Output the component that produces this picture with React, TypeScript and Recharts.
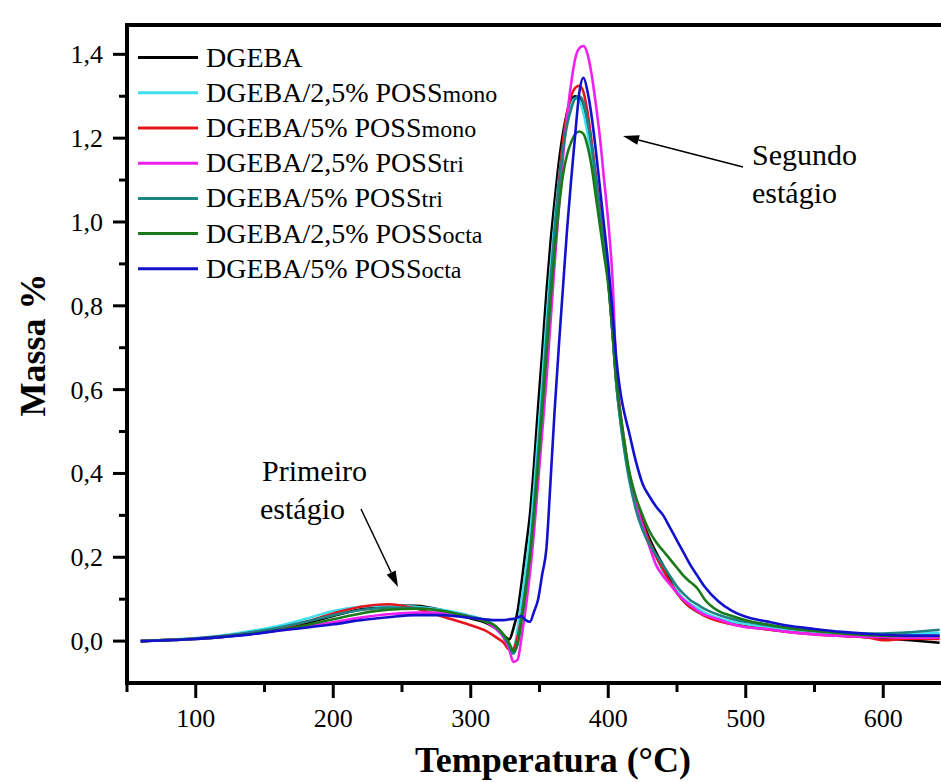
import { LineChart, Line, XAxis, YAxis, ReferenceLine, Legend } from 'recharts';

// temperature grid (°C), denser around the main degradation peak
const temps = [
  60, 80, 100, 120, 140, 160, 180, 200, 220, 240, 260, 280, 300,
  310, 318, 324, 328,
  331, 334, 337, 340, 343, 346, 349, 352, 355, 358, 361, 364, 367, 370, 373, 376, 379,
  382, 385, 388, 391, 394, 397, 400, 403, 406, 409, 412, 415,
  420, 425, 430, 435, 440, 445, 450, 455, 460, 465, 470,
  480, 490, 500,
  515, 530, 550, 570, 590, 600, 620, 641,
];

const dgeba = [
  0, 0.003, 0.006, 0.011, 0.018, 0.028, 0.042, 0.06, 0.076, 0.085, 0.084, 0.073, 0.054,
  0.045, 0.031, 0.014, 0.004,
  0.03, 0.07, 0.14, 0.22, 0.3, 0.42, 0.56, 0.69, 0.83, 0.95, 1.05, 1.14, 1.21, 1.26, 1.29, 1.3, 1.295,
  1.27, 1.23, 1.17, 1.1, 1.02, 0.95, 0.86, 0.74, 0.61, 0.53, 0.46, 0.4,
  0.335, 0.285, 0.245, 0.21, 0.18, 0.145, 0.115, 0.095, 0.08, 0.07, 0.062,
  0.05, 0.042, 0.036,
  0.029, 0.023, 0.017, 0.013, 0.009, 0.007, 0.002, -0.004,
];

const monoLow = [
  0, 0.003, 0.007, 0.014, 0.024, 0.036, 0.053, 0.072, 0.082, 0.085, 0.082, 0.074, 0.06,
  0.05, 0.035, 0.012, -0.008,
  -0.02, 0.03, 0.1, 0.17, 0.25, 0.36, 0.49, 0.62, 0.76, 0.89, 1.0, 1.1, 1.18, 1.24, 1.28, 1.295, 1.29,
  1.26, 1.21, 1.15, 1.08, 1.01, 0.94, 0.86, 0.74, 0.61, 0.52, 0.45, 0.39,
  0.32, 0.27, 0.235, 0.2, 0.165, 0.14, 0.12, 0.1, 0.088, 0.078, 0.068,
  0.055, 0.046, 0.04,
  0.033, 0.027, 0.021, 0.017, 0.015, 0.015, 0.017, 0.02,
];

const monoHigh = [
  0, 0.003, 0.006, 0.012, 0.02, 0.03, 0.046, 0.066, 0.082, 0.088, 0.078, 0.058, 0.038,
  0.026, 0.01, -0.004, -0.02,
  -0.018, 0.01, 0.06, 0.13, 0.2, 0.28, 0.4, 0.53, 0.68, 0.83, 0.97, 1.09, 1.19, 1.26, 1.3, 1.32, 1.325,
  1.31, 1.26, 1.19, 1.11, 1.03, 0.95, 0.87, 0.75, 0.62, 0.53, 0.46, 0.4,
  0.33, 0.28, 0.235, 0.2, 0.17, 0.14, 0.115, 0.095, 0.08, 0.07, 0.06,
  0.048, 0.04, 0.034,
  0.028, 0.022, 0.016, 0.012, 0.008, 0.002, 0.006, 0.005,
];

const triLow = [
  0, 0.002, 0.005, 0.01, 0.017, 0.025, 0.035, 0.045, 0.056, 0.064, 0.068, 0.068, 0.058,
  0.048, 0.03, 0.008, -0.02,
  -0.05, -0.045, 0.01, 0.08, 0.16, 0.26, 0.38, 0.5, 0.62, 0.76, 0.9, 1.03, 1.15, 1.25, 1.33, 1.39, 1.415,
  1.42, 1.4, 1.35, 1.28, 1.2, 1.1, 1.0, 0.87, 0.64, 0.54, 0.47, 0.4,
  0.33, 0.275, 0.225, 0.18, 0.155, 0.135, 0.115, 0.098, 0.085, 0.072, 0.063,
  0.052, 0.04, 0.033,
  0.029, 0.022, 0.016, 0.012, 0.01, 0.009, 0.008, 0.008,
];

const triHigh = [
  0, 0.003, 0.006, 0.012, 0.021, 0.032, 0.046, 0.062, 0.074, 0.08, 0.079, 0.072, 0.058,
  0.05, 0.035, 0.012, -0.012,
  -0.03, -0.005, 0.06, 0.13, 0.21, 0.32, 0.45, 0.58, 0.72, 0.86, 0.98, 1.08, 1.17, 1.23, 1.27, 1.295, 1.3,
  1.285, 1.24, 1.18, 1.1, 1.02, 0.94, 0.86, 0.74, 0.61, 0.52, 0.45, 0.39,
  0.315, 0.265, 0.23, 0.205, 0.18, 0.155, 0.13, 0.112, 0.097, 0.087, 0.077,
  0.063, 0.053, 0.046,
  0.038, 0.031, 0.025, 0.02, 0.018, 0.018, 0.021, 0.027,
];

const octaLow = [
  0, 0.002, 0.005, 0.01, 0.017, 0.026, 0.038, 0.052, 0.066, 0.075, 0.077, 0.072, 0.056,
  0.047, 0.036, 0.015, -0.005,
  -0.024, -0.008, 0.05, 0.12, 0.2, 0.3, 0.42, 0.55, 0.68, 0.81, 0.93, 1.03, 1.11, 1.16, 1.19, 1.21, 1.216,
  1.21, 1.18, 1.13, 1.06, 0.99, 0.92, 0.85, 0.74, 0.62, 0.54, 0.47, 0.41,
  0.345, 0.3, 0.262, 0.235, 0.215, 0.195, 0.175, 0.155, 0.14, 0.125, 0.1,
  0.072, 0.06, 0.05,
  0.04, 0.032, 0.024, 0.018, 0.014, 0.013, 0.012, 0.012,
];

const octaHigh = [
  0, 0.002, 0.005, 0.01, 0.016, 0.025, 0.032, 0.04, 0.05, 0.057, 0.062, 0.062, 0.055,
  0.052, 0.05, 0.05, 0.052,
  0.053, 0.056, 0.06, 0.05, 0.046, 0.07, 0.1, 0.16, 0.22, 0.38, 0.55, 0.7, 0.84, 0.98, 1.1, 1.21, 1.31,
  1.344, 1.31, 1.25, 1.17, 1.08, 0.99, 0.9, 0.79, 0.67, 0.59, 0.54, 0.5,
  0.43, 0.375, 0.345, 0.32, 0.3, 0.27, 0.24, 0.21, 0.18, 0.155, 0.13,
  0.095, 0.072, 0.058,
  0.047, 0.037, 0.029, 0.022, 0.017, 0.015, 0.013, 0.013,
];

const xTicks = [50, 100, 150, 200, 250, 300, 350, 400, 450, 500, 550, 600];
const yTicks = [0, 0.1, 0.2, 0.3, 0.4, 0.5, 0.6, 0.7, 0.8, 0.9, 1.0, 1.1, 1.2, 1.3, 1.4];

const series = [
  { key: 'dgeba', name: 'DGEBA', sub: '', color: '#000000', values: dgeba },
  { key: 'monoLow', name: 'DGEBA/2,5% POSS', sub: 'mono', color: '#3DE0F0', values: monoLow },
  { key: 'monoHigh', name: 'DGEBA/5% POSS', sub: 'mono', color: '#E8141C', values: monoHigh },
  { key: 'triLow', name: 'DGEBA/2,5% POSS', sub: 'tri', color: '#F020F0', values: triLow },
  { key: 'triHigh', name: 'DGEBA/5% POSS', sub: 'tri', color: '#1E8282', values: triHigh },
  { key: 'octaLow', name: 'DGEBA/2,5% POSS', sub: 'octa', color: '#1A7A1A', values: octaLow },
  { key: 'octaHigh', name: 'DGEBA/5% POSS', sub: 'octa', color: '#1212CC', values: octaHigh },
];

const data = temps.map((t, i) => {
  const row: any = { t };
  series.forEach((s) => {
    row[s.key] = s.values[i];
  });
  return row;
});

const FONT = 'Liberation Serif, Times New Roman, serif';

const XTick = (props: any) => {
  const { x, y, payload } = props;
  const major = payload.value % 100 === 0;
  return (
    <g>
      <line x1={x} x2={x} y1={y} y2={y + (major ? 15 : 9)} stroke="#000" strokeWidth={3} />
      {major && (
        <text x={x} y={y + 44} textAnchor="middle" fontFamily={FONT} fontSize={26} fill="#000">
          {payload.value}
        </text>
      )}
    </g>
  );
};

const YTick = (props: any) => {
  const { x, y, payload } = props;
  const major = Math.round(payload.value * 10) % 2 === 0;
  return (
    <g>
      <line x1={x - (major ? 14 : 8)} x2={x} y1={y} y2={y} stroke="#000" strokeWidth={3} />
      {major && (
        <text x={x - 24} y={y + 9} textAnchor="end" fontFamily={FONT} fontSize={26} fill="#000">
          {payload.value.toFixed(1).replace('.', ',')}
        </text>
      )}
    </g>
  );
};

const renderLegend = () => (
  <svg width={520} height={300} style={{ overflow: 'visible' }}>
    {series.map((s, i) => {
      const cy = 57.6 + i * 35.2;
      return (
        <g key={s.key}>
          <line x1={138} x2={198} y1={cy} y2={cy} stroke={s.color} strokeWidth={3} />
          <text x={206} y={cy + 9} fontFamily={FONT} fontSize={28} fill="#000">
            {s.name}
            {s.sub && <tspan fontSize={24}>{s.sub}</tspan>}
          </text>
        </g>
      );
    })}
  </svg>
);

const Arrow = ({ x1, y1, x2, y2 }: { x1: number; y1: number; x2: number; y2: number }) => {
  const dx = x2 - x1;
  const dy = y2 - y1;
  const len = Math.sqrt(dx * dx + dy * dy);
  const ux = dx / len;
  const uy = dy / len;
  const hl = 16;
  const hw = 5;
  const bx = x2 - ux * hl;
  const by = y2 - uy * hl;
  return (
    <g>
      <line x1={x1} y1={y1} x2={bx} y2={by} stroke="#000" strokeWidth={1.5} />
      <polygon
        points={`${x2},${y2} ${bx - uy * hw},${by + ux * hw} ${bx + uy * hw},${by - ux * hw}`}
        fill="#000"
      />
    </g>
  );
};

export default function App() {
  return (
    <div
      style={{
        position: 'absolute',
        left: 0,
        top: 0,
        width: 941,
        height: 782,
        overflow: 'hidden',
        background: '#fff',
      }}
    >
      <LineChart width={941} height={782} data={data} margin={{ top: 25, right: 0, bottom: 0, left: 0 }}>
        <XAxis
          dataKey="t"
          type="number"
          domain={[50, 642]}
          ticks={xTicks}
          interval={0}
          height={99}
          tickSize={0}
          tickMargin={0}
          tickLine={false}
          axisLine={{ stroke: '#000', strokeWidth: 4, strokeLinecap: 'square' }}
          tick={XTick}
          allowDataOverflow
        />
        <YAxis
          type="number"
          domain={[-0.1, 1.47]}
          ticks={yTicks}
          interval={0}
          width={127}
          tickSize={0}
          tickMargin={0}
          tickLine={false}
          axisLine={{ stroke: '#000', strokeWidth: 4, strokeLinecap: 'square' }}
          tick={YTick}
          allowDataOverflow
        />
        <ReferenceLine y={1.47} stroke="#000" strokeWidth={4} />
        {series.map((s) => (
          <Line
            key={s.key}
            type="monotone"
            dataKey={s.key}
            name={s.name + s.sub}
            stroke={s.color}
            strokeWidth={2.6}
            dot={false}
            activeDot={false}
            isAnimationActive={false}
          />
        ))}
        <Legend
          content={renderLegend}
          layout="vertical"
          align="center"
          verticalAlign="middle"
          wrapperStyle={{ left: 0, top: 0, width: 520, height: 300 }}
        />
      </LineChart>
      <svg
        width={941}
        height={782}
        style={{ position: 'absolute', left: 0, top: 0, pointerEvents: 'none' }}
      >
        <text
          transform="translate(45,345) rotate(-90)"
          textAnchor="middle"
          fontFamily={FONT}
          fontWeight="bold"
          fontSize={36}
          fill="#000"
        >
          Massa %
        </text>
        <text x={553} y={772} textAnchor="middle" fontFamily={FONT} fontWeight="bold" fontSize={36} fill="#000">
          Temperatura (°C)
        </text>
        <text x={752} y={165} fontFamily={FONT} fontSize={30} fill="#000">Segundo</text>
        <text x={752} y={203} fontFamily={FONT} fontSize={30} fill="#000">estágio</text>
        <Arrow x1={743} y1={167} x2={623} y2={136} />
        <text x={262} y={481} fontFamily={FONT} fontSize={30} fill="#000">Primeiro</text>
        <text x={260} y={519} fontFamily={FONT} fontSize={30} fill="#000">estágio</text>
        <Arrow x1={361} y1={509} x2={398} y2={587} />
      </svg>
    </div>
  );
}
